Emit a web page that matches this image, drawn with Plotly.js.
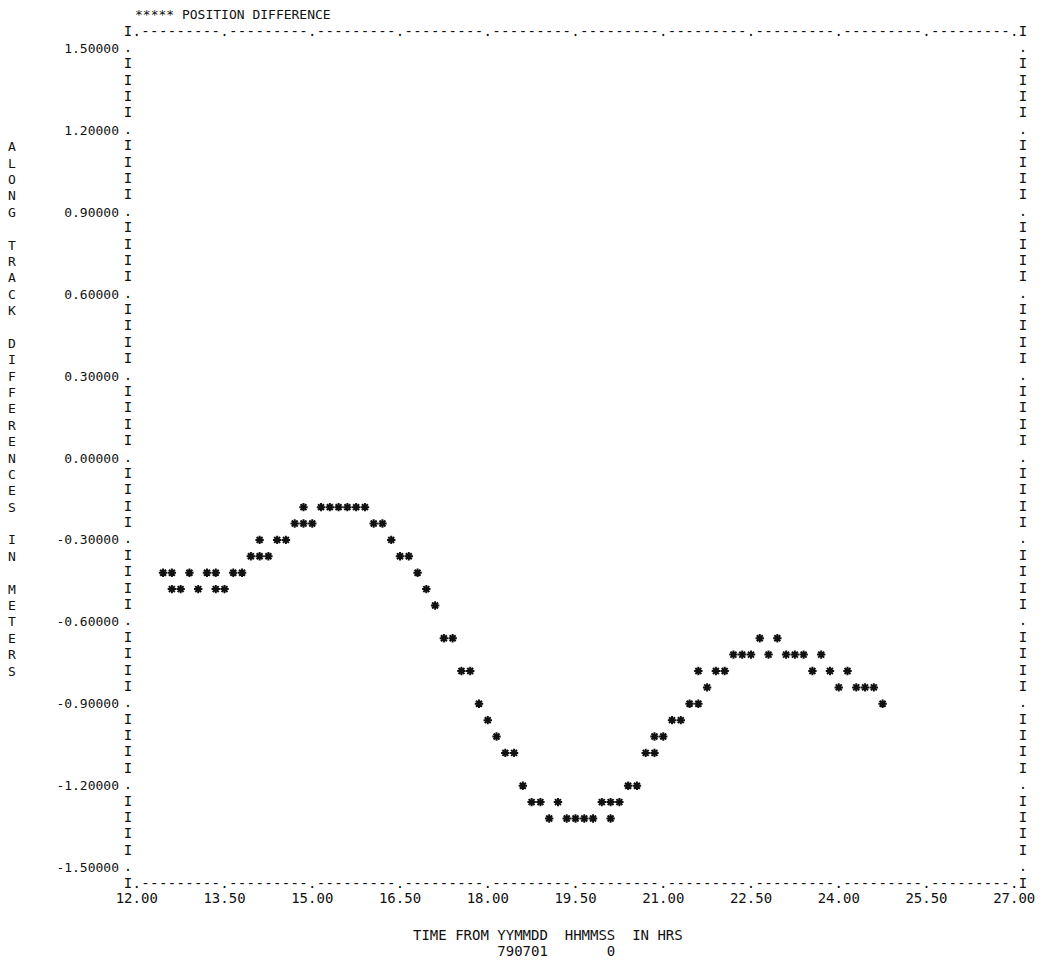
<!DOCTYPE html>
<html>
<head>
<meta charset="utf-8">
<script src="https://cdn.plot.ly/plotly-3.0.1.min.js"></script>
<style>
  html, body { margin: 0; padding: 0; background: #ffffff; }
  #chart { width: 1048px; height: 962px; }
</style>
</head>
<body>
<div id="chart"></div>
<script>
// ---- data (time in hours, along-track difference in meters) ----
const hours = [
  12.45, 12.60, 12.60, 12.75, 12.90, 13.05, 13.20, 13.35, 13.35, 13.50,
  13.65, 13.80, 13.95, 14.10, 14.10, 14.25, 14.40, 14.55, 14.70, 14.85,
  14.85, 15.00, 15.15, 15.30, 15.45, 15.60, 15.75, 15.90, 16.05, 16.20,
  16.35, 16.50, 16.65, 16.80, 16.95, 17.10, 17.25, 17.40, 17.55, 17.70,
  17.85, 18.00, 18.15, 18.30, 18.45, 18.60, 18.75, 18.90, 19.05, 19.20,
  19.35, 19.50, 19.65, 19.80, 19.95, 20.10, 20.10, 20.25, 20.40, 20.55,
  20.70, 20.85, 20.85, 21.00, 21.15, 21.30, 21.45, 21.60, 21.60, 21.75,
  21.90, 22.05, 22.20, 22.35, 22.50, 22.65, 22.80, 22.95, 23.10, 23.25,
  23.40, 23.55, 23.70, 23.85, 24.00, 24.15, 24.30, 24.45, 24.60, 24.75
];
const diffs = [
  -0.42, -0.42, -0.48, -0.48, -0.42, -0.48, -0.42, -0.42, -0.48, -0.48,
  -0.42, -0.42, -0.36, -0.36, -0.30, -0.36, -0.30, -0.30, -0.24, -0.24,
  -0.18, -0.24, -0.18, -0.18, -0.18, -0.18, -0.18, -0.18, -0.24, -0.24,
  -0.30, -0.36, -0.36, -0.42, -0.48, -0.54, -0.66, -0.66, -0.78, -0.78,
  -0.90, -0.96, -1.02, -1.08, -1.08, -1.20, -1.26, -1.26, -1.32, -1.26,
  -1.32, -1.32, -1.32, -1.32, -1.26, -1.32, -1.26, -1.26, -1.20, -1.20,
  -1.08, -1.08, -1.02, -1.02, -0.96, -0.96, -0.90, -0.90, -0.78, -0.84,
  -0.78, -0.78, -0.72, -0.72, -0.72, -0.66, -0.72, -0.66, -0.72, -0.72,
  -0.72, -0.78, -0.72, -0.78, -0.84, -0.78, -0.84, -0.84, -0.84, -0.90
];

// ---- axis ticks and labels ----
const xTicks = [12.0, 13.5, 15.0, 16.5, 18.0, 19.5, 21.0, 22.5, 24.0, 25.5, 27.0];
const xTickText = ["12.00", "13.50", "15.00", "16.50", "18.00", "19.50", "21.00", "22.50", "24.00", "25.50", "27.00"];
const yTicks = [1.5, 1.2, 0.9, 0.6, 0.3, 0.0, -0.3, -0.6, -0.9, -1.2, -1.5];
const yTickText = ["1.50000", "1.20000", "0.90000", "0.60000", "0.30000", "0.00000",
                   "-0.30000", "-0.60000", "-0.90000", "-1.20000", "-1.50000"];
const legendText = "***** POSITION DIFFERENCE";
const yTitleText = "ALONG TRACK DIFFERENCES IN METERS";
const xTitleLine1 = "TIME FROM YYMMDD  HHMMSS  IN HRS";
const xTitleLine2 = "          790701       0";

// ---- printer-grid geometry (style) ----
const X0 = 12.0, X1 = 27.0, XSTEP = 0.15;     // one print column
const Y0 = 1.5, Y1 = -1.5, YSTEP = 0.06;      // one print line
const nCols = Math.round((X1 - X0) / XSTEP);  // 100
const nRows = Math.round((Y0 - Y1) / YSTEP);  // 50
const W = 1048, H = 962;
const M = {l: 128, r: 25, t: 32, b: 78};
const plotW = W - M.l - M.r, plotH = H - M.t - M.b;
const px2paperX = p => (p - M.l) / plotW;
const px2paperY = p => (H - M.b - p) / plotH;
const mono = "DejaVu Sans Mono, Liberation Mono, monospace";
const ink = "#111111";

// frame characters built from the grid
const fx = [], fy = [], ft = [];
for (let c = -1; c <= nCols + 1; c++) {
  const x = X0 + c * XSTEP;
  const ch = (c === -1 || c === nCols + 1) ? "I" : (c % 10 === 0 ? "." : "-");
  fx.push(x); fy.push(Y0 + YSTEP); ft.push(ch);
  fx.push(x); fy.push(Y1 - YSTEP); ft.push(ch);
}
for (let r = 0; r <= nRows; r++) {
  const y = Y0 - r * YSTEP;
  const ch = (r % 5 === 0) ? "." : "I";
  fx.push(X0 - XSTEP); fy.push(y); ft.push(ch);
  fx.push(X1 + XSTEP); fy.push(y); ft.push(ch);
}

const traces = [
  {
    type: "scatter", mode: "text", x: fx, y: fy, text: ft,
    textposition: "middle center",
    textfont: {family: mono, size: 14, color: ink},
    cliponaxis: false, hoverinfo: "skip", showlegend: false
  },
  {
    type: "scatter", mode: "markers", x: hours, y: diffs,
    name: "POSITION DIFFERENCE",
    marker: {symbol: "asterisk-open", size: 7, color: ink, line: {width: 2, color: ink}},
    cliponaxis: false, showlegend: false
  }
];

const annotations = [];
// vertical y-axis title, one letter per print line, starting at line 6
const startRow = 6;
for (let i = 0; i < yTitleText.length; i++) {
  const ch = yTitleText[i];
  if (ch === " ") continue;
  annotations.push({
    xref: "paper", yref: "y", x: px2paperX(12), y: Y0 - (startRow + i) * YSTEP,
    text: ch, showarrow: false, xanchor: "center", yanchor: "middle",
    font: {family: mono, size: 13, color: ink}
  });
}
const nb = s => s.replace(/ /g, "\u00A0");
annotations.push({
  xref: "paper", yref: "paper", x: px2paperX(133), y: px2paperY(14),
  text: nb(legendText), showarrow: false, xanchor: "left", yanchor: "middle",
  font: {family: mono, size: 13, color: ink}
});
annotations.push({
  xref: "paper", yref: "paper", x: px2paperX(411), y: px2paperY(935),
  text: nb(xTitleLine1), showarrow: false, xanchor: "left", yanchor: "middle",
  font: {family: mono, size: 14, color: ink}
});
annotations.push({
  xref: "paper", yref: "paper", x: px2paperX(411), y: px2paperY(951),
  text: nb(xTitleLine2), showarrow: false, xanchor: "left", yanchor: "middle",
  font: {family: mono, size: 14, color: ink}
});

const layout = {
  width: W, height: H,
  margin: M,
  paper_bgcolor: "#ffffff", plot_bgcolor: "#ffffff",
  showlegend: false,
  xaxis: {
    range: [X0 - XSTEP, X1 + XSTEP],
    tickvals: xTicks, ticktext: xTickText,
    showgrid: false, zeroline: false, showline: false, ticks: "",
    ticklabelstandoff: 4,
    tickfont: {family: mono, size: 14, color: ink}
  },
  yaxis: {
    range: [Y1 - YSTEP, Y0 + YSTEP],
    tickvals: yTicks, ticktext: yTickText,
    showgrid: false, zeroline: false, showline: false, ticks: "",
    ticklabelstandoff: 8,
    tickfont: {family: mono, size: 13, color: ink}
  },
  annotations: annotations
};

Plotly.newPlot("chart", traces, layout, {staticPlot: true, displayModeBar: false});
</script>
</body>
</html>
